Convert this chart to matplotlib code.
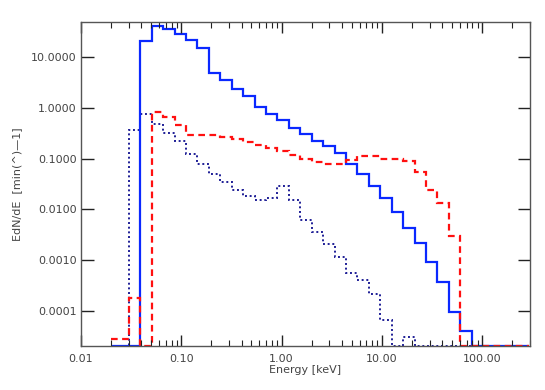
import matplotlib
matplotlib.use("Agg")
import matplotlib.pyplot as plt
import matplotlib.ticker as mticker
import numpy as np

# energy bin edges [keV] (log bins)
edges = [0.02, 0.03, 0.039, 0.0507, 0.0659, 0.0857, 0.1114, 0.1448, 0.1882,
         0.2447, 0.3181, 0.4136, 0.5377, 0.699, 0.9087, 1.181, 1.536, 1.996,
         2.595, 3.374, 4.386, 5.701, 7.412, 9.636, 12.53, 16.28, 21.17, 27.52,
         35.77, 46.51, 60.46, 78.60, 102.2, 132.8, 172.7, 224.5, 291.8]

# blue solid
solid = [0, 0, 21.0, 41.1, 35.8, 29.4, 22.0, 15.1, 4.82, 3.50, 2.43, 1.69,
         1.07, 0.778, 0.573, 0.411, 0.303, 0.220, 0.175, 0.130, 0.0785,
         0.0498, 0.0283, 0.0167, 0.00904, 0.00436, 0.00214, 0.000925,
         0.000361, 9.2e-5, 3.98e-5, 0, 0, 0, 0, 0]

# red dashed
dashed = [2.69e-5, 1.75e-4, 0, 0.853, 0.663, 0.47, 0.30, 0.30, 0.30, 0.273,
          0.245, 0.217, 0.187, 0.163, 0.140, 0.116, 0.0986, 0.0860, 0.0796,
          0.080, 0.0955, 0.115, 0.111, 0.0986, 0.097, 0.0885, 0.0545, 0.0243,
          0.0133, 0.00299, 0, 0, 0, 0, 0, 0]

# navy dotted
dotted = [0, 0.375, 0.778, 0.493, 0.323, 0.220, 0.126, 0.0785, 0.049, 0.0340,
          0.0243, 0.0185, 0.0154, 0.0167, 0.0283, 0.0154, 0.00628, 0.00363,
          0.00207, 0.00113, 0.000561, 0.000407, 0.000215, 6.4e-5, 0, 3.03e-5,
          0, 0, 0, 0, 0, 0, 0, 0, 0, 0]

ymin, ymax = 2e-5, 50.0
xmin, xmax = 0.01, 300.0

fig = plt.figure(figsize=(5.45, 3.9), dpi=100)
ax = fig.add_axes([81/545, 1-346/390, 449/545, 324/390])

def floor(v):
    # empty bins sit on the bottom axis, like IDL clipping
    return np.clip(np.array(v, dtype=float), ymin, None)

ax.stairs(floor(dotted), edges, baseline=None, color="#1e1e96", lw=1.4,
          linestyle=(0, (1, 1.4)))
ax.stairs(floor(solid), edges, baseline=None, color="#0a28ff", lw=1.6)
ax.stairs(floor(dashed), edges, baseline=None, color="#ff1010", lw=1.6,
          linestyle=(0, (3, 2)))

ax.set_xscale("log")
ax.set_yscale("log")
ax.set_xlim(xmin, xmax)
ax.set_ylim(ymin, ymax)

ax.xaxis.set_major_locator(mticker.FixedLocator([0.01, 0.1, 1, 10, 100]))
ax.xaxis.set_major_formatter(mticker.FormatStrFormatter("%.2f"))
ax.xaxis.set_minor_locator(mticker.LogLocator(base=10, subs=np.arange(2, 10)))
ax.xaxis.set_minor_formatter(mticker.NullFormatter())
ax.yaxis.set_major_locator(mticker.FixedLocator([1e-4, 1e-3, 1e-2, 0.1, 1, 10]))
ax.yaxis.set_major_formatter(mticker.FormatStrFormatter("%.4f"))
ax.yaxis.set_minor_locator(mticker.NullLocator())

grey = "#555555"
for s in ax.spines.values():
    s.set_color(grey)
    s.set_linewidth(1.0)
ax.tick_params(which="both", direction="in", top=True, right=True,
               colors="#222222", labelcolor="#444444", labelsize=8)
ax.tick_params(axis="y", which="major", length=9, width=1.0, pad=3)
ax.tick_params(axis="x", which="major", length=8, width=1.0, pad=6)
ax.tick_params(axis="x", which="minor", length=4, width=0.8)

ax.set_xlabel("Energy [keV]", fontsize=8, color="#444444")
ax.set_ylabel("EdN/dE  [min(^)\u20141]", fontsize=8, color="#444444")
ax.xaxis.set_label_coords(0.5, -0.058)
ax.yaxis.set_label_coords(-0.131, 0.5)

fig.savefig("out.png", dpi=100)
